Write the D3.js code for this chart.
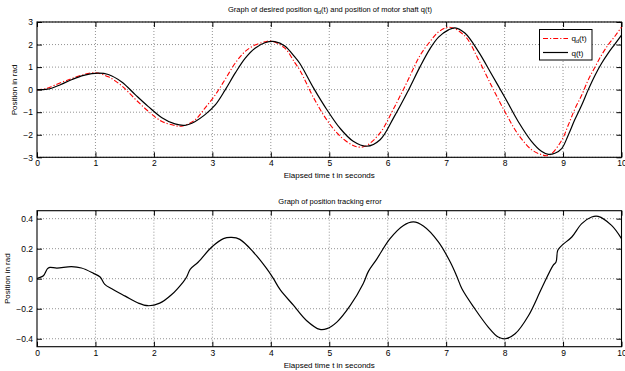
<!DOCTYPE html>
<html>
<head>
<meta charset="utf-8">
<script src="https://cdn.jsdelivr.net/npm/d3@7"></script>
<style>
body { margin: 0; background: #fff; }
text { font-family: "Liberation Sans", Arial, sans-serif; fill: #000; }
</style>
</head>
<body>
<svg id="chart" width="625" height="371"></svg>
<script>
// tick values
const timeTicks = [0, 1, 2, 3, 4, 5, 6, 7, 8, 9, 10];
const posTicks = [-3, -2, -1, 0, 1, 2, 3];
const errTicks = [-0.4, -0.2, 0, 0.2, 0.4];

const qTime = [0, 0.15, 0.25, 0.4, 0.6, 0.8, 1.05, 1.22, 1.45, 1.68, 1.9, 2.13, 2.36, 2.53, 2.7, 2.87, 3.05, 3.22,
  3.39, 3.56, 3.73, 3.9, 4.07, 4.24, 4.41, 4.5, 4.73, 4.96, 5.18, 5.41, 5.64, 5.87, 6.1, 6.33, 6.55, 6.72, 6.87,
  7.04, 7.15, 7.32, 7.55, 7.78, 8.01, 8.23, 8.46, 8.63, 8.75, 8.86, 8.98, 9.09, 9.2, 9.32, 9.43, 9.55, 9.66,
  9.77, 9.89, 10];
const qVals = [0, 0.01, 0.06, 0.22, 0.45, 0.63, 0.73, 0.67, 0.34, -0.22, -0.74, -1.23, -1.52, -1.58, -1.42, -1.12, -0.68, -0.01,
  0.73, 1.39, 1.84, 2.08, 2.13, 1.94, 1.45, 1.15, 0.08, -0.89, -1.7, -2.29, -2.51, -2.22, -1.25, -0.15, 1.0, 1.8, 2.33,
  2.65, 2.74, 2.51, 1.7, 0.67, -0.37, -1.4, -2.29, -2.73, -2.87, -2.82, -2.6, -2.01, -1.34, -0.68, -0.01, 0.65, 1.17,
  1.61, 2.03, 2.42];

// desired position q_d(t)
const qdTime = [0, 0.15, 0.3, 0.54, 0.76, 0.99, 1.22, 1.45, 1.68, 1.9, 2.13, 2.36, 2.47, 2.7, 2.87, 3.05, 3.22, 3.39,
  3.56, 3.73, 3.9, 4.0, 4.24, 4.41, 4.5, 4.73, 4.96, 5.18, 5.41, 5.53, 5.64, 5.87, 6.1, 6.33, 6.55, 6.72, 6.87, 7.06,
  7.32, 7.55, 7.78, 8.01, 8.23, 8.46, 8.63, 8.72, 8.8, 8.98, 9.09, 9.2, 9.32, 9.43, 9.55, 9.66, 9.77, 9.89, 10];
const qdVals = [0, 0.04, 0.2, 0.44, 0.64, 0.75, 0.57, 0.17, -0.42, -0.95, -1.4, -1.59, -1.62, -1.35, -0.83, -0.23, 0.46, 1.17,
  1.69, 1.98, 2.12, 2.16, 1.84, 1.2, 0.85, -0.35, -1.35, -2.05, -2.48, -2.55, -2.48, -1.92, -0.85, 0.33, 1.5, 2.12, 2.56, 2.77,
  2.38, 1.35, 0.15, -1.0, -1.98, -2.66, -2.88, -2.93, -2.85, -2.23, -1.57, -0.87, -0.24, 0.43, 1.02, 1.54, 1.98, 2.38, 2.77];

// position tracking error
const errTime = [0, 0.02, 0.11, 0.18, 0.22, 0.34, 0.59, 0.76, 0.96, 1.08, 1.16, 1.28, 1.51, 1.73, 1.9, 2.1, 2.3, 2.5,
  2.56, 2.62, 2.76, 2.99, 3.19, 3.33, 3.47, 3.7, 3.93, 4.04, 4.16, 4.39, 4.61, 4.84, 4.96, 5.13, 5.36, 5.58, 5.67,
  5.81, 6.04, 6.27, 6.44, 6.61, 6.87, 7.07, 7.18, 7.27, 7.49, 7.72, 7.89, 8.01, 8.18, 8.41, 8.63, 8.83, 8.88, 8.91,
  8.98, 9.15, 9.32, 9.49, 9.6, 9.83, 10];
const errVals = [0, 0.004, 0.02, 0.067, 0.075, 0.071, 0.08, 0.071, 0.037, 0.011, -0.038, -0.067, -0.116, -0.162, -0.18, -0.163, -0.107, -0.022,
  0.011, 0.062, 0.111, 0.211, 0.267, 0.275, 0.262, 0.178, 0.067, 0.004, -0.073, -0.178, -0.278, -0.338, -0.333, -0.289, -0.178, -0.033, 0.049,
  0.129, 0.267, 0.355, 0.378, 0.351, 0.244, 0.111, 0.018, -0.067, -0.2, -0.322, -0.389, -0.4, -0.367, -0.245, -0.067, 0.089, 0.111, 0.189,
  0.222, 0.278, 0.367, 0.411, 0.415, 0.355, 0.267];

const svg = d3.select('#chart');
const left = 37, right = 621.5;
const fmt = (d) => (d < 0 ? '\u2212' : '') + Math.abs(d);

function panel(top, bottom, yDomain, yTicks, yFmt) {
  const g = svg.append('g');
  const x = d3.scaleLinear().domain([0, 10]).range([left, right]);
  const y = d3.scaleLinear().domain(yDomain).range([bottom, top]);

  // dotted grid
  g.selectAll('.vg').data(timeTicks.slice(1, -1)).enter().append('line')
    .attr('x1', (d) => x(d)).attr('x2', (d) => x(d))
    .attr('y1', top).attr('y2', bottom)
    .attr('stroke', '#777').attr('stroke-width', 0.8).attr('stroke-dasharray', '1,2');
  g.selectAll('.hg').data(yTicks).enter().append('line')
    .attr('x1', left).attr('x2', right)
    .attr('y1', (d) => y(d)).attr('y2', (d) => y(d))
    .attr('stroke', '#777').attr('stroke-width', 0.8).attr('stroke-dasharray', '1,2');

  const ax = (a, tr) => {
    const s = g.append('g').attr('transform', tr).call(a);
    s.select('.domain').remove();
    s.selectAll('text').attr('font-size', 8.5).attr('font-family', '"Liberation Sans", Arial, sans-serif');
    s.selectAll('line').attr('stroke', '#000');
    return s;
  };
  ax(d3.axisBottom(x).tickValues(timeTicks).tickSize(-5).tickPadding(3).tickFormat(d3.format('d')), `translate(0,${bottom})`);
  ax(d3.axisTop(x).tickValues(timeTicks).tickSize(-5).tickFormat(''), `translate(0,${top})`);
  ax(d3.axisLeft(y).tickValues(yTicks).tickSize(-5).tickPadding(4).tickFormat(yFmt), `translate(${left},0)`);
  ax(d3.axisRight(y).tickValues(yTicks).tickSize(-5).tickFormat(''), `translate(${right},0)`);

  g.append('rect').attr('x', left).attr('y', top)
    .attr('width', right - left).attr('height', bottom - top)
    .attr('fill', 'none').attr('stroke', '#000').attr('stroke-width', 1.1);

  g.append('text').attr('x', (left + right) / 2).attr('y', bottom + 21)
    .attr('text-anchor', 'middle').attr('font-size', 8).text('Elapsed time t in seconds');
  return { g, x, y };
}

const line = (x, y, ts) => d3.line()
  .x((d, i) => x(ts[i])).y((d) => y(d))
  .curve(d3.curveCatmullRom.alpha(0.5));

// ---- top panel
const p1 = panel(22, 157.3, [-3, 3], posTicks, fmt);
p1.g.append('path').datum(qdVals)
  .attr('d', line(p1.x, p1.y, qdTime))
  .attr('fill', 'none').attr('stroke', '#ff0000').attr('stroke-width', 1.1)
  .attr('stroke-dasharray', '5,2,1.2,2');
p1.g.append('path').datum(qVals)
  .attr('d', line(p1.x, p1.y, qTime))
  .attr('fill', 'none').attr('stroke', '#000').attr('stroke-width', 1.2);

const t1 = svg.append('text').attr('x', 330).attr('y', 12).attr('text-anchor', 'middle').attr('font-size', 7.5);
t1.append('tspan').text('Graph of desired position q');
t1.append('tspan').attr('font-size', 5.5).attr('dy', 2).text('d');
t1.append('tspan').attr('dy', -2).text('(t) and position of motor shaft q(t)');

svg.append('text').attr('transform', 'translate(17,90) rotate(-90)')
  .attr('text-anchor', 'middle').attr('font-size', 8).text('Position in rad');

// legend
const lg = svg.append('g');
lg.append('rect').attr('x', 539.5).attr('y', 29.5).attr('width', 52.5).attr('height', 30.5)
  .attr('fill', '#fff').attr('stroke', '#000').attr('stroke-width', 1);
lg.append('line').attr('x1', 543).attr('x2', 568).attr('y1', 38.5).attr('y2', 38.5)
  .attr('stroke', '#ff0000').attr('stroke-width', 1.1).attr('stroke-dasharray', '5,2,1.2,2');
lg.append('line').attr('x1', 543).attr('x2', 568).attr('y1', 52.5).attr('y2', 52.5)
  .attr('stroke', '#000').attr('stroke-width', 1.2);
const lt = lg.append('text').attr('x', 571.5).attr('y', 41).attr('font-size', 8);
lt.append('tspan').text('q');
lt.append('tspan').attr('font-size', 5.5).attr('dy', 2).text('d');
lt.append('tspan').attr('dy', -2).text('(t)');
lg.append('text').attr('x', 571.5).attr('y', 55.5).attr('font-size', 8).text('q(t)');

// ---- bottom panel
const p2 = panel(210.7, 346.7, [-0.453, 0.453], errTicks, (d) => fmt(+d.toFixed(1)));
p2.g.append('path').datum(errVals)
  .attr('d', line(p2.x, p2.y, errTime))
  .attr('fill', 'none').attr('stroke', '#000').attr('stroke-width', 1.2);

svg.append('text').attr('x', 330).attr('y', 203.5).attr('text-anchor', 'middle')
  .attr('font-size', 7.5).text('Graph of position tracking error');
svg.append('text').attr('transform', 'translate(10,278.7) rotate(-90)')
  .attr('text-anchor', 'middle').attr('font-size', 8).text('Position in rad');
</script>
</body>
</html>
